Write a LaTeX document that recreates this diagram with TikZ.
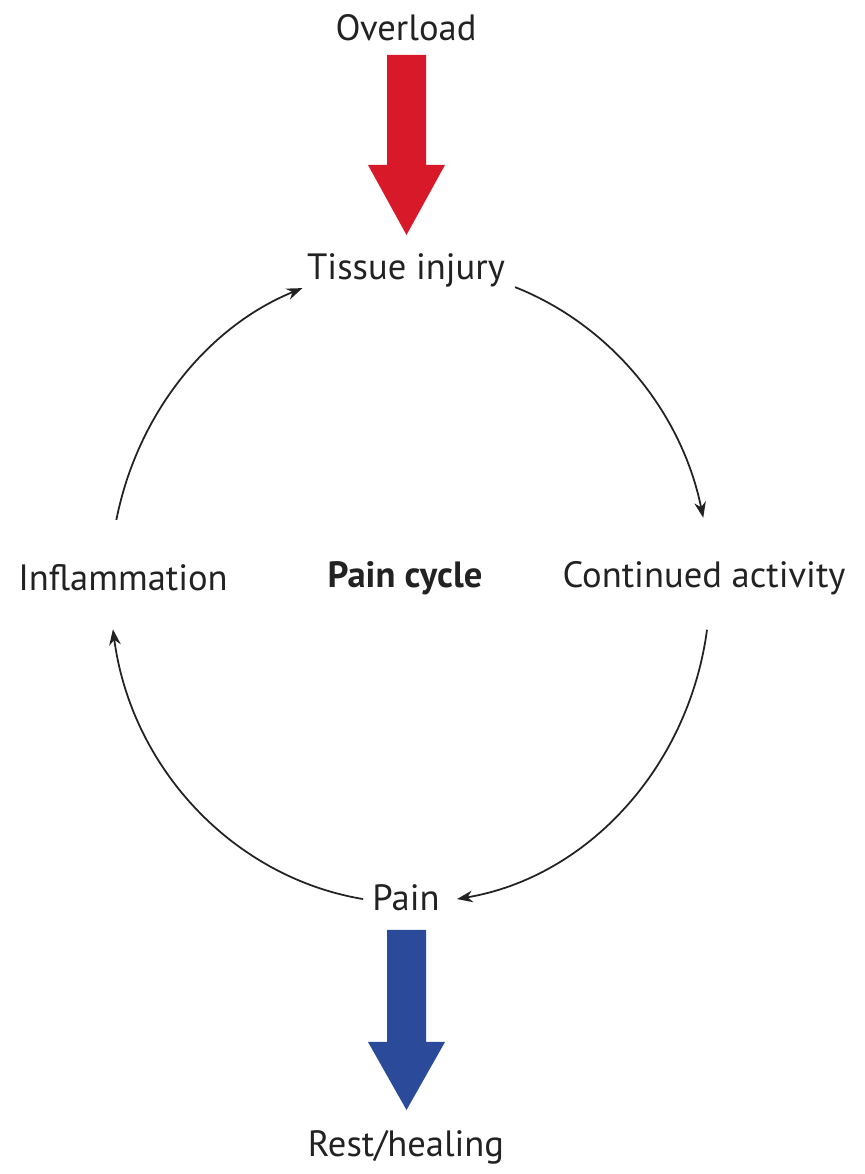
\documentclass[tikz,border=0pt]{standalone}
\usepackage{fontspec}
\setmainfont{PT Sans}
\usetikzlibrary{arrows.meta}
\definecolor{txt}{HTML}{222222}
\definecolor{redarrow}{HTML}{D7192A}
\definecolor{bluearrow}{HTML}{2B4A9A}
\tikzset{
  lbl/.style={text=txt, inner sep=0pt, font=\fontsize{10.4}{12}\selectfont},
  cyc/.style={draw=txt, line width=0.5pt, -{Stealth[length=4.5pt,width=3.3pt]}}
}
\begin{document}
\begin{tikzpicture}[x=0.01cm,y=0.01cm]
\useasboundingbox (0,0) rectangle (864,1174);
% labels
\node[lbl] (over) at (406,1146) {Overload};
\node[lbl] (tis) at (406,904) {Tissue injury};
\node[lbl] (inf) at (123,596) {Inflammation};
\node[lbl] (cont) at (704,596) {Continued activity};
\node[lbl, font=\fontsize{10.4}{12}\selectfont\bfseries] (cyc) at (405,596) {Pain cycle};
\node[lbl] (pain) at (406,276) {Pain};
\node[lbl] (rest) at (406,27) {Rest/healing};
% cycle arcs
\coordinate (ctr) at (410,589);
\path (ctr) ++(168.2:300 and 318) coordinate (a1s);
\path (ctr) ++(69.5:300 and 318) coordinate (a2s);
\path (ctr) ++(-8.1:300 and 318) coordinate (a3s);
\path (ctr) ++(-99:300 and 318) coordinate (a4s);
\draw[cyc] (a1s) arc[start angle=168.2, end angle=111, x radius=300, y radius=318];
\draw[cyc] (a2s) arc[start angle=69.5, end angle=12.2, x radius=300, y radius=318];
\draw[cyc] (a3s) arc[start angle=-8.1, end angle=-81, x radius=300, y radius=318];
\draw[cyc] (a4s) arc[start angle=-99, end angle=-172, x radius=300, y radius=318];
% big arrows
\coordinate (rtop) at (406.5,1119);
\coordinate (btop) at (406.5,244);
\fill[redarrow] (rtop) ++(-19.5,0) -- ++(39,0) -- ++(0,-110) -- ++(19,0)
  -- (406.5,939) -- (368,1009) -- (387,1009) -- cycle;
\fill[bluearrow] (btop) ++(-19.5,0) -- ++(39,0) -- ++(0,-112) -- ++(19,0)
  -- (406.5,64) -- (368,132) -- (387,132) -- cycle;
\end{tikzpicture}
\end{document}
